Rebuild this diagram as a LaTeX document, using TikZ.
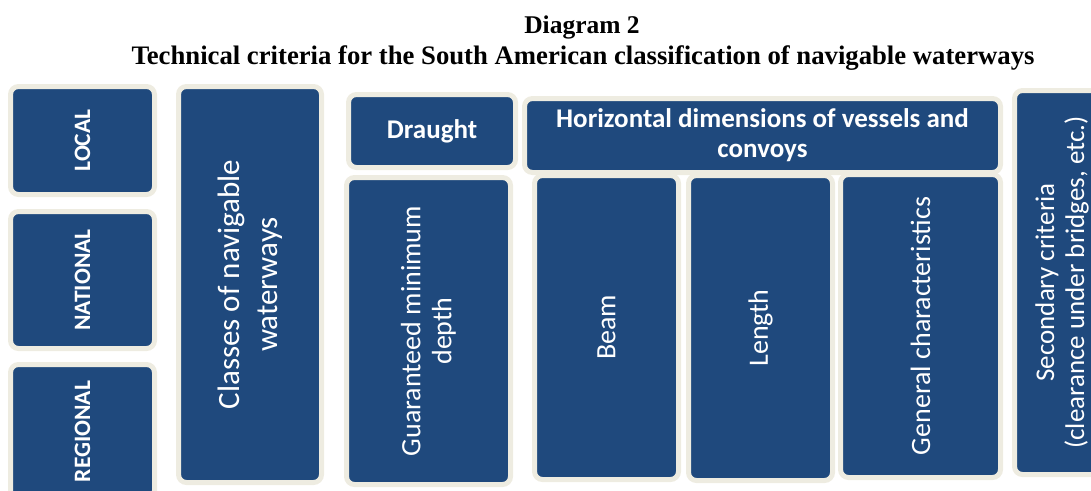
\documentclass[tikz,border=0pt]{standalone}
\usepackage{fontspec}
\setmainfont{Carlito}
\newfontfamily\titlefont{Liberation Serif}
\usepackage{tikz}
\usetikzlibrary{positioning}
\definecolor{boxblue}{HTML}{1F497D}
\definecolor{boxrim}{HTML}{EEECE1}

\begin{document}
\begin{tikzpicture}[x=1pt,y=-1pt,
  crit box/.style={rectangle,draw=boxrim,line width=5pt,fill=boxblue,
  rounded corners=8pt,text=white,align=center,inner sep=0pt},
  vcrit/.style={crit box,rotate=90},
  tier/.style={font=\bfseries\fontsize{23.5}{28}\selectfont},
  head/.style={font=\bfseries\fontsize{27}{30}\selectfont},
  mid text/.style={font=\fontsize{28}{31}\selectfont}]
  \useasboundingbox (0,0) rectangle (1091,490);
  \clip (0,0) rectangle (1091,490);

  \node[anchor=base,font=\titlefont\bfseries\fontsize{25.5}{28}\selectfont] (T1) at (582,33) [] {Diagram 2};
  \node[anchor=base,font=\titlefont\bfseries\fontsize{26.7}{30}\selectfont] (T2) at (583,64) [] {Technical criteria for the South American classification of navigable waterways};

  % levels
  \node[vcrit,tier,minimum width=108,minimum height=144] (LOC) at (82.5,140.5) [] {LOCAL};
  \node[vcrit,tier,minimum width=137,minimum height=144] (NAT) at (82.5,280) [] {NATIONAL};
  \node[vcrit,tier,minimum width=134,minimum height=144] (REG) at (82.5,431.5) [] {REGIONAL};

  \node[vcrit,font=\fontsize{31}{38}\selectfont,minimum width=396,minimum height=143] (CLS) at (250,284.5) [] {Classes of navigable\\waterways};

  % headers
  \node[crit box,head,minimum width=167,minimum height=73] (DRA) at (432,131) [] {Draught};
  \node[crit box,head,minimum width=476,minimum height=74] (HOR) at (762.5,135.5) [] {Horizontal dimensions of vessels and\\convoys};

  % criteria
  \node[vcrit,mid text,minimum width=307,minimum height=164] (GMD) at (428.5,331) [] {Guaranteed minimum\\depth};
  \node[vcrit,mid text,minimum width=304,minimum height=144] (BEA) at (606.5,327.5) [] {Beam};
  \node[vcrit,mid text,minimum width=305,minimum height=144] (LEN) at (760.5,328) [] {Length};
  \node[vcrit,mid text,minimum width=303,minimum height=160] (GEN) at (920.5,326) [] {General characteristics};
  \node[vcrit,font=\fontsize{27}{30}\selectfont,minimum width=384,minimum height=95] (SEC) at (1062,282.5) [] {Secondary criteria\\(clearance under bridges, etc.)};
\end{tikzpicture}
\end{document}
